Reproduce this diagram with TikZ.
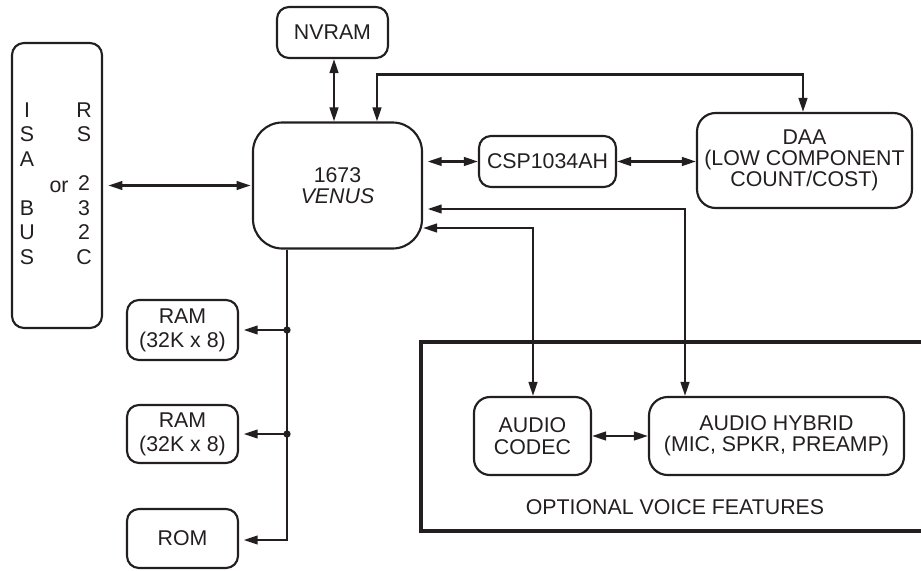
\documentclass[tikz,border=0pt]{standalone}
\usepackage{fontspec}
\setmainfont{Liberation Sans}
\usetikzlibrary{arrows.meta}
\definecolor{ink}{HTML}{231F20}
\begin{document}
\begin{tikzpicture}[x=0.75pt,y=-0.75pt,
  txt/.style={font=\fontsize{16}{16}\selectfont, text=ink, align=center, inner sep=0pt},
  box/.style={txt, draw=ink, line width=1.6pt, rounded corners=9pt},
  sz/.style 2 args={minimum width=#1*0.75pt, minimum height=#2*0.75pt},
  conn/.style={draw=ink, line width=1.6pt},
  >={Triangle[length=10.5pt,width=6.5pt]},
  dot/.style={circle, fill=ink, inner sep=0pt, minimum size=5.5pt},
]
\useasboundingbox (0,0) rectangle (921,571);

% boxes
\node[box, sz={90}{285}] (isa) at (57,185.5) {};
\node[txt, font=\fontsize{16}{18.4}\selectfont] (isaL) at (27,183.5) {I\\S\\A\\[18.4pt]B\\U\\S};
\node[txt, font=\fontsize{16}{18.4}\selectfont] (isaR) at (84,183.5) {R\\S\\[18.4pt]2\\3\\2\\C};
\node[txt] (isaor) at (59,187) {or};

\node[box, sz={111}{51}] (nvram) at (332.5,32.5) {NVRAM};
\node[box, sz={169}{126}, rounded corners=22pt] (venus) at (337.5,185.5) {1673\\\textit{VENUS}};
\node[box, sz={137}{51}] (csp) at (547.5,161.5) {CSP1034AH};
\node[box, sz={215}{95}, rounded corners=14pt] (daa) at (804.5,160.5) {DAA\\(LOW COMPONENT\\COUNT/COST)};

\node[box, sz={111}{60}, font=\fontsize{16}{18}\selectfont] (ram1) at (182.5,330) {RAM\\(32K x 8)};
\node[box, sz={111}{58}, font=\fontsize{16}{18}\selectfont] (ram2) at (182.5,434) {RAM\\(32K x 8)};
\node[box, sz={111}{59}] (rom) at (182.5,538.5) {ROM};

\node[box, sz={117}{78}, rounded corners=12pt] (codec) at (532.5,436) {AUDIO\\CODEC};
\node[box, sz={255}{78}, rounded corners=14pt] (hybrid) at (776.5,436) {AUDIO HYBRID\\(MIC, SPKR, PREAMP)};

% optional voice features frame (open on the right)
\draw[ink, line width=2.4pt] (921,342) -- (421,342) -- (421,531) -- (921,531);
\node[txt] (opt) at (675,507) {OPTIONAL VOICE FEATURES};

% coordinates for routing
\coordinate (dtop) at (377,74.5);
\coordinate (h1) at (685,209);
\coordinate (c1) at (533,228);
\coordinate (b1) at (287,330);
\coordinate (b2) at (287,434);
\coordinate (b3) at (287,540);

% connectors
\draw[conn, <->, shorten <=4pt, shorten >=1pt] (isa.east |- venus) -- (venus.west);
\draw[conn, <->] (nvram.south -| 334,0) -- (venus.north -| 334,0);
\draw[conn, <->] (venus.north -| dtop) -- (dtop) -| (daa.north -| 803,0);
\draw[conn, <->, shorten <=3.5pt] (venus.east |- csp) -- (csp.west);
\draw[conn, <->] (csp.east) -- (daa.west |- csp.east);
\draw[conn, <->, shorten <=3.5pt] (venus.east |- h1) -- (h1) -- (hybrid.north -| h1);
\draw[conn, <->] (venus.east |- c1) -- (c1) -- (codec.north -| c1);
\draw[conn, <->] (codec.east) -- (hybrid.west);

\draw[conn, ->, shorten >=3.5pt] (venus.south -| b3) -- (b3) -- (rom.east |- b3);
\draw[conn, ->, shorten >=3.5pt] (b1) -- (ram1.east |- b1);
\draw[conn, ->, shorten >=3.5pt] (b2) -- (ram2.east |- b2);
\node[dot] (d1) at (b1) {};
\node[dot] (d2) at (b2) {};
\end{tikzpicture}
\end{document}
